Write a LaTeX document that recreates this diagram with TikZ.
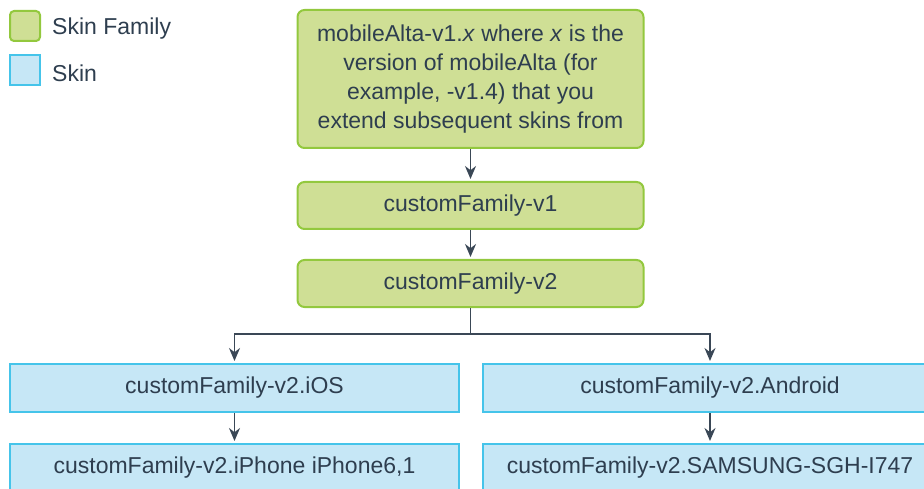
\documentclass[tikz,border=0pt]{standalone}
\usepackage{fontspec}
\setmainfont{Liberation Sans}
\usetikzlibrary{arrows.meta}
\definecolor{famfill}{HTML}{CFDF95}
\definecolor{famline}{HTML}{93C83E}
\definecolor{skinfill}{HTML}{C6E7F6}
\definecolor{skinline}{HTML}{45C4EA}
\definecolor{txt}{HTML}{2E3E4F}
\definecolor{arrcol}{HTML}{3A4756}
\begin{document}
\begin{tikzpicture}[x=1pt,y=-1pt,
    every node/.style={text=txt,font=\fontsize{23}{29}\selectfont,inner sep=0pt},
    family/.style={draw=famline,fill=famfill,line width=2pt,rounded corners=7pt,align=center},
    skin/.style={draw=skinline,fill=skinfill,line width=2pt},
    arr/.style={draw=arrcol,line width=1.5pt,-{Stealth[length=13pt,width=11pt]},shorten >=2pt}]
    \useasboundingbox (0,0) rectangle (924,489);
    \clip (0,0) rectangle (924,489);
    \node[family,minimum size=30pt,rounded corners=4pt](legfam)at(25,26){};
    \node[anchor=west](legfamtxt)at(52,29){Skin Family};
    \node[skin,minimum size=30pt](legskin)at(25,70){};
    \node[anchor=west](legskintxt)at(52,73){Skin};
    \node[family,minimum width=346pt,minimum height=138pt](alta)at(470.5,79){mobileAlta-v1.\textit{x} where \textit{x} is the\\version of mobileAlta (for\\example, -v1.4) that you\\extend subsequent skins from};
    \node[family,minimum width=346pt,minimum height=47pt](v1)at(470.5,205.5){customFamily-v1};
    \node[family,minimum width=346pt,minimum height=47pt](v2)at(470.5,283.5){customFamily-v2};
    \node[skin,minimum width=449pt,minimum height=48pt](ios)at(234.5,388){customFamily-v2.iOS};
    \node[skin,minimum width=454pt,minimum height=48pt](android)at(710,388){customFamily-v2.Android};
    \node[skin,minimum width=449pt,minimum height=48pt](iphone)at(234.5,468){customFamily-v2.iPhone iPhone6,1};
    \node[skin,minimum width=454pt,minimum height=48pt](samsung)at(710,468){customFamily-v2.SAMSUNG-SGH-I747};
    \coordinate(split)at([yshift=-26pt]v2.south);
    \draw[arr](alta)--(v1);
    \draw[arr](v1)--(v2);
    \draw[draw=arrcol,line width=1.5pt](v2.south)--(split);
    \draw[arr](split)-|(ios.north);
    \draw[arr](split)-|(android.north);
    \draw[arr](ios)--(iphone);
    \draw[arr](android)--(samsung);
\end{tikzpicture}
\end{document}
